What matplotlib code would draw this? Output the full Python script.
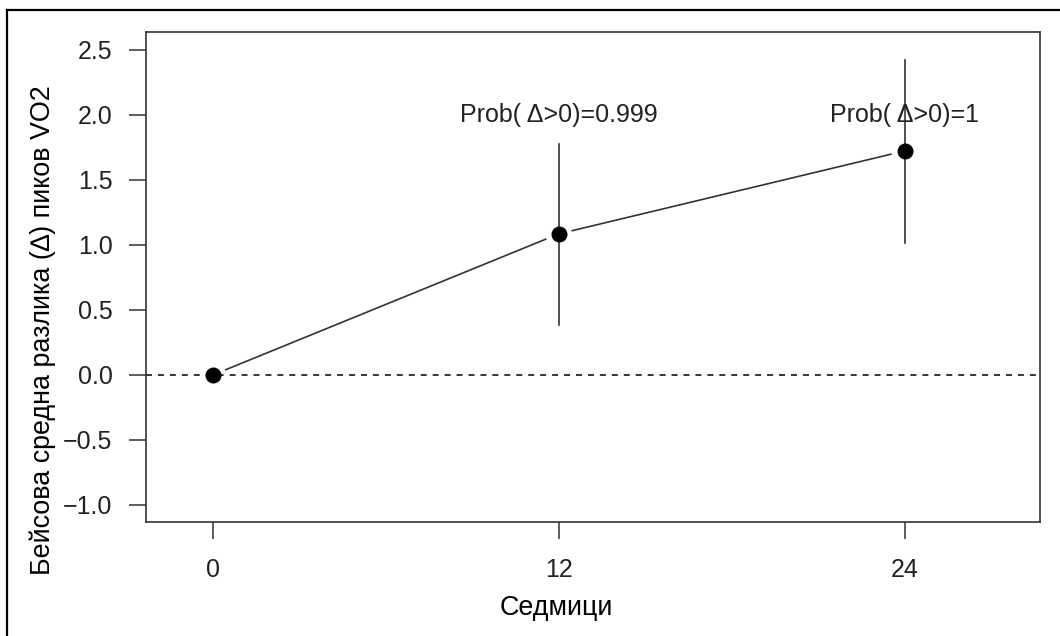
import numpy as np
import matplotlib
matplotlib.use("Agg")
import matplotlib.pyplot as plt
from matplotlib.lines import Line2D

# ============================================================
# DATA
# ============================================================

weeks = [0, 12, 24]
mean_diff = [0.0, 1.085, 1.723]
lower = [np.nan, 0.385, 1.015]
upper = [np.nan, 1.777, 2.42]
prob_labels = ["", "Prob( Δ>0)=0.999", "Prob( Δ>0)=1"]
prob_y = 2.0

xticks = [0, 12, 24]
yticks = [-1.0, -0.5, 0.0, 0.5, 1.0, 1.5, 2.0, 2.5]

# ============================================================
# STYLE
# ============================================================

plt.rcParams["font.family"] = ["Liberation Sans", "DejaVu Sans"]
plt.rcParams["font.size"] = 18
plt.rcParams["lines.scale_dashes"] = False

LINE_COL = "#333333"

fig = plt.figure(figsize=(10.6, 6.36), dpi=100)
ax = fig.add_axes([0.1377, 0.1792, 0.9811 - 0.1377, 0.9497 - 0.1792])

ax.set_xlim(-2.32, 28.7)
ax.set_ylim(-1.131, 2.638)

# reference line at zero
ax.axhline(0, color="black", lw=1.1, dashes=(4.3, 4.3), zorder=1)

# credible intervals
for x, lo, hi in zip(weeks, lower, upper):
    if np.isnan(lo):
        continue
    ax.plot([x, x], [lo, hi], color=LINE_COL, lw=1.2, zorder=2)

# connecting line with gaps around points (R type="b")
fig.canvas.draw()
gap = 14.0
to_disp = ax.transData
to_data = ax.transData.inverted()
for i in range(len(weeks) - 1):
    p0 = np.array(to_disp.transform((weeks[i], mean_diff[i])))
    p1 = np.array(to_disp.transform((weeks[i + 1], mean_diff[i + 1])))
    d = p1 - p0
    u = d / np.hypot(*d)
    a = to_data.transform(p0 + u * gap)
    b = to_data.transform(p1 - u * gap)
    ax.plot([a[0], b[0]], [a[1], b[1]], color=LINE_COL, lw=1.2, zorder=2)

ax.plot(weeks, mean_diff, "o", color="black", ms=10.5, zorder=3)

for x, lab in zip(weeks, prob_labels):
    if lab:
        ax.text(x, prob_y, lab, ha="center", va="center", fontsize=18,
                color="#222222")

ax.set_xticks(xticks)
ax.set_xticklabels([str(t) for t in xticks])
ax.set_yticks(yticks)
ax.set_yticklabels([f"{t:.1f}".replace("-", "\u2212") for t in yticks])

ax.tick_params(direction="out", length=12, width=1.1, color=LINE_COL,
               labelcolor="#222222")
ax.tick_params(axis="y", pad=12)
ax.tick_params(axis="x", pad=14)

for s in ax.spines.values():
    s.set_color(LINE_COL)
    s.set_linewidth(1.2)

ax.set_xlabel("Седмици", fontsize=19.4, va="center")
ax.xaxis.set_label_coords(0.4586, -0.1755)
ax.set_ylabel("Бейсова средна разлика (\u2206) пиков VO2", fontsize=19.4,
              va="center")
ax.yaxis.set_label_coords(-0.115, 0.392)

# outer frame (left and top only)
fig.add_artist(Line2D([7 / 1060, 7 / 1060], [0, 1 - 10 / 636],
                      transform=fig.transFigure, color="black", lw=1.6))
fig.add_artist(Line2D([7 / 1060, 1], [1 - 10 / 636, 1 - 10 / 636],
                      transform=fig.transFigure, color="black", lw=1.6))

fig.savefig("out.png", dpi=100)
